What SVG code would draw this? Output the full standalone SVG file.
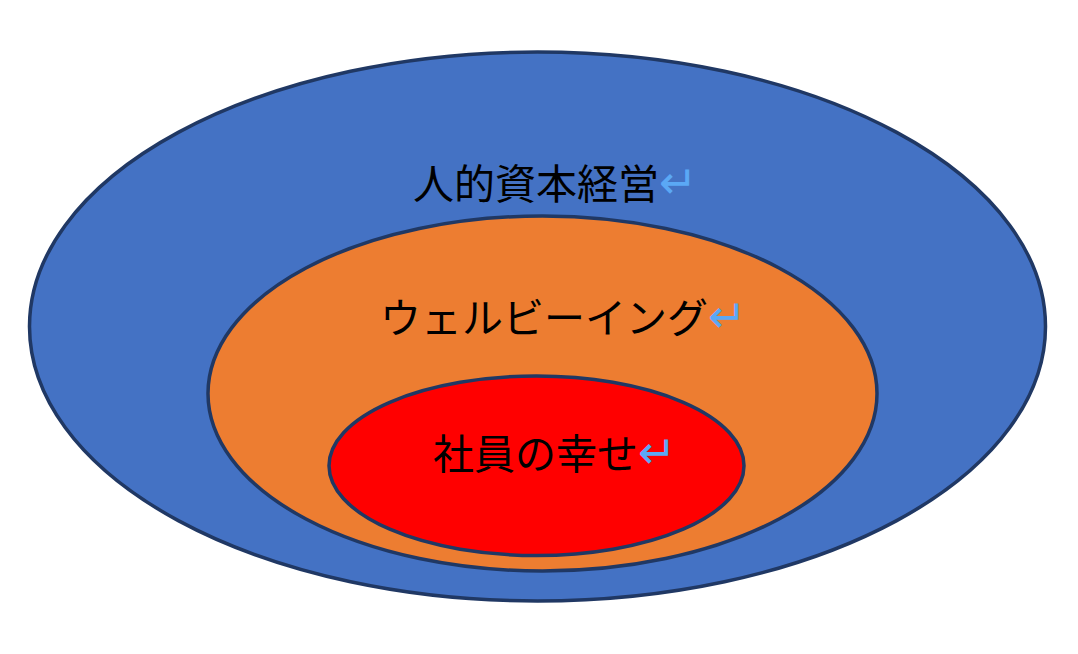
<svg xmlns="http://www.w3.org/2000/svg" width="1078" height="654" viewBox="0 0 1078 654">
<style>
.e{stroke:#203864;stroke-width:3.5}
.t{font-family:"Liberation Serif","Noto Sans CJK JP",serif;font-size:41px;fill:#000}
.m{font-family:"DejaVu Sans",sans-serif;font-size:46px;fill:#5BA8F5}
</style>
<rect width="1078" height="654" fill="#fff"/>
<g id="outer">
<ellipse class="e" cx="537.5" cy="326.5" rx="508" ry="274.5" fill="#4472C4"/>
<text class="t" x="413" y="199">人的資本経営<tspan class="m" dy="-1">↵</tspan></text>
</g>
<g id="middle">
<ellipse class="e" cx="542.5" cy="393.5" rx="334.5" ry="177.5" fill="#ED7D31"/>
<text class="t" x="380" y="333">ウェルビーイング<tspan class="m" dy="-1">↵</tspan></text>
</g>
<g id="inner">
<ellipse class="e" cx="536.5" cy="465.75" rx="207.5" ry="89.75" fill="#FF0000"/>
<text class="t" x="433" y="469">社員の幸せ<tspan class="m" dy="-1">↵</tspan></text>
</g>
<g id="connectors"/>
</svg>
